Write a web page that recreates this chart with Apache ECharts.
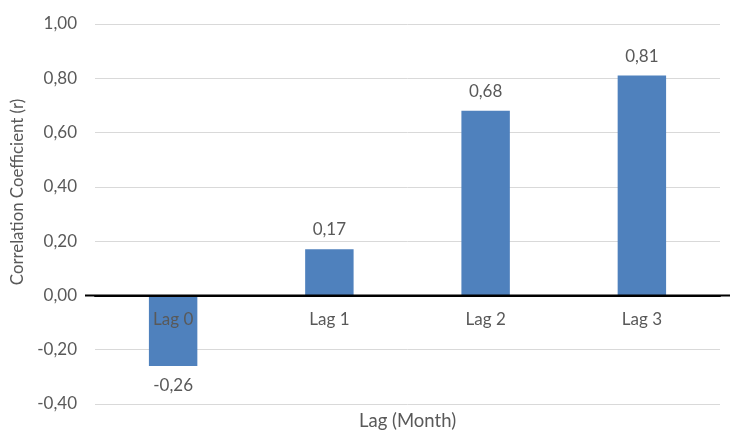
<!DOCTYPE html>
<html>
<head>
<meta charset="utf-8">
<script src="https://cdn.jsdelivr.net/npm/echarts@6/dist/echarts.min.js"></script>
<style>
  html, body { margin: 0; padding: 0; background: #fff; }
  #chart { width: 730px; height: 432px; }
</style>
</head>
<body>
<div id="chart"></div>
<script>
// Lag categories and correlation values
const categories = ['Lag 0', 'Lag 1', 'Lag 2', 'Lag 3'];
const correlation = [-0.26, 0.17, 0.68, 0.81];
const yMin = -0.4;
const yMax = 1.0;
const yStep = 0.2;

const fmt = v => v.toFixed(2).replace('.', ',');
const FONT = 'Lato, "Open Sans", sans-serif';
const TEXT = '#595959';

const chart = echarts.init(document.getElementById('chart'), null, { renderer: 'canvas' });
chart.setOption({
  backgroundColor: '#ffffff',
  animation: false,
  grid: { left: 95, right: 10, top: 24, bottom: 28, containLabel: false, outerBoundsMode: 'none' },
  xAxis: {
    type: 'category',
    data: categories,
    name: 'Lag (Month)',
    nameLocation: 'middle',
    nameGap: 8,
    nameTextStyle: { color: TEXT, fontSize: 18.5, fontFamily: FONT },
    axisLine: { onZero: true, lineStyle: { color: '#000', width: 2 } },
    axisTick: { show: false },
    // category labels sit just under the zero line
    axisLabel: { color: TEXT, fontSize: 17, fontFamily: FONT, margin: -93 },
    z: 10
  },
  yAxis: {
    type: 'value',
    min: yMin,
    max: yMax,
    interval: yStep,
    name: 'Correlation Coefficient (r)',
    nameLocation: 'middle',
    nameGap: 68,
    nameTextStyle: { color: TEXT, fontSize: 16.8, fontFamily: FONT, padding: [0, 0, 0, 44] },
    axisLine: { show: false },
    axisTick: { show: false },
    axisLabel: { color: TEXT, fontSize: 17, fontFamily: FONT, margin: 18, formatter: v => fmt(v) },
    splitLine: { lineStyle: { color: '#d9d9d9', width: 1 } }
  },
  series: [{
    type: 'bar',
    data: correlation,
    barWidth: '31%',
    itemStyle: { color: '#4f81bd' },
    label: {
      show: true,
      position: 'outside',
      distance: 11,
      color: TEXT,
      fontSize: 17,
      fontFamily: FONT,
      formatter: p => fmt(p.value)
    },
    z: 2
  }]
});

// zero line runs a little past the plot area on both sides
const zeroY = chart.convertToPixel({ yAxisIndex: 0 }, 0);
chart.setOption({
  graphic: [{
    type: 'line',
    shape: { x1: 85, y1: zeroY, x2: 730, y2: zeroY },
    style: { stroke: '#000', lineWidth: 2 },
    z: 20,
    silent: true
  }]
});
</script>
</body>
</html>
